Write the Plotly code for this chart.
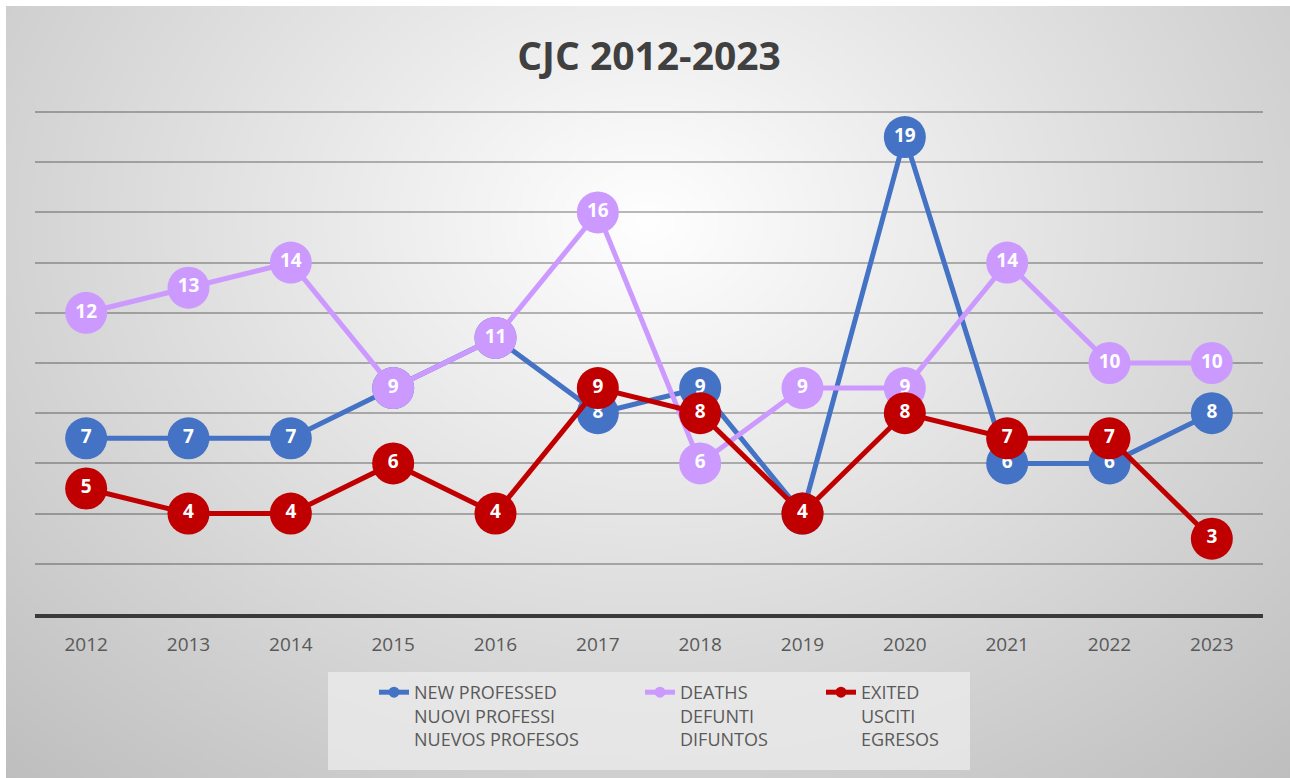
import zlib, struct, base64
import numpy as np
import plotly.graph_objects as go

years = ["2012", "2013", "2014", "2015", "2016", "2017", "2018", "2019", "2020", "2021", "2022", "2023"]
new_professed = [7, 7, 7, 9, 11, 8, 9, 4, 19, 6, 6, 8]
deaths = [12, 13, 14, 9, 11, 16, 6, 9, 9, 14, 10, 10]
exited = [5, 4, 4, 6, 4, 9, 8, 4, 8, 7, 7, 3]

names = [
    "NEW PROFESSED<br>NUOVI PROFESSI<br>NUEVOS PROFESOS",
    "DEATHS<br>DEFUNTI<br>DIFUNTOS",
    "EXITED<br>USCITI<br>EGRESOS",
]
colors = ["#4472C4", "#CC99FF", "#C00000"]
series = [new_professed, deaths, exited]

# ---- radial gradient background image (pure styling) ----
W, H = 320, 194
yy, xx = np.mgrid[0:H, 0:W]
dx = (xx + 0.5) / W - 0.5
dy = (yy + 0.5) / H - 0.28
r = np.sqrt(1.75 * dx ** 2 + dy ** 2)
g = np.clip(255 - 66 * r, 0, 255).astype(np.uint8)
raw = b"".join(b"\x00" + g[i].tobytes() for i in range(H))


def chunk(t, d):
    return struct.pack(">I", len(d)) + t + d + struct.pack(">I", zlib.crc32(t + d) & 0xFFFFFFFF)


png = (b"\x89PNG\r\n\x1a\n" + chunk(b"IHDR", struct.pack(">IIBBBBB", W, H, 8, 0, 0, 0, 0))
       + chunk(b"IDAT", zlib.compress(raw)) + chunk(b"IEND", b""))
bg_src = "data:image/png;base64," + base64.b64encode(png).decode()

FONT = "Open Sans, Liberation Sans, sans-serif"

fig = go.Figure()
x_idx = list(range(len(years)))
for vals, col in zip(series, colors):
    fig.add_trace(go.Scatter(
        x=x_idx, y=vals, mode="lines+markers+text",
        line=dict(color=col, width=5),
        marker=dict(color=col, size=42),
        text=[str(v) for v in vals], textposition="middle center",
        textfont=dict(color="white", size=19, family=FONT, weight="bold"),
        showlegend=False, hoverinfo="skip",
    ))

legend_ids = ["legend", "legend2", "legend3"]
for nm, col, lid in zip(names, colors, legend_ids):
    fig.add_trace(go.Scatter(
        x=[None], y=[None], mode="lines+markers", name=nm,
        line=dict(color=col, width=5), marker=dict(color=col, size=11),
        legend=lid, showlegend=True,
    ))

# plot area pixel geometry: x 35..1263, y 110..614 (0 at 614, 25.1 px per unit)
PL, PR, PT, PB = 35, 1263, 110, 614
pw, ph = PR - PL, PB - PT
YMAX = (PB - PT) / 25.1


def px_x(p):
    return (p - PL) / pw


def px_y(p):
    return (PB - p) / ph


leg_common = dict(bgcolor="rgba(0,0,0,0)", borderwidth=0, valign="top",
                  font=dict(family=FONT, size=18, color="#595959"),
                  xanchor="left", yanchor="top", itemclick=False, itemdoubleclick=False)
lx = [374, 640, 821]
fig.update_layout(
    legend=dict(x=px_x(lx[0]), y=px_y(674), **leg_common),
    legend2=dict(x=px_x(lx[1]), y=px_y(674), **leg_common),
    legend3=dict(x=px_x(lx[2]), y=px_y(674), **leg_common),
)

fig.update_layout(
    width=1290, height=778,
    margin=dict(l=PL, r=1290 - PR, t=PT, b=778 - PB),
    paper_bgcolor="white", plot_bgcolor="rgba(0,0,0,0)",
    title=dict(text="<b>CJC 2012-2023</b>", x=0.5, xref="paper", y=1 - 56 / 778, yanchor="middle",
               font=dict(family=FONT, size=39, color="#404040")),
    xaxis=dict(tickmode="array", tickvals=x_idx, ticktext=years, range=[-0.5, 11.5],
               showgrid=False, zeroline=False, showline=True, linecolor="#3a3a3a", linewidth=4,
               ticks="", ticklabelstandoff=10,
               tickfont=dict(family=FONT, size=19, color="#595959"), fixedrange=True),
    yaxis=dict(range=[0, YMAX], tickmode="linear", tick0=0, dtick=2, showticklabels=False, showgrid=True,
               gridcolor="rgba(0,0,0,0.27)", gridwidth=1.5, zeroline=False, showline=False, fixedrange=True),
    images=[dict(source=bg_src, xref="paper", yref="paper", x=px_x(6), y=px_y(6),
                 sizex=(1290 - 6) / pw, sizey=(778 - 6) / ph, sizing="stretch",
                 xanchor="left", yanchor="top", layer="below")],
    shapes=[dict(type="rect", xref="paper", yref="paper", x0=px_x(328), x1=px_x(970),
                 y0=px_y(770), y1=px_y(672), fillcolor="rgba(236,236,236,0.75)",
                 line=dict(width=0), layer="below")],
)

fig.write_html("out.html", config={"displayModeBar": False},
               post_script="document.body.style.margin='0';")
